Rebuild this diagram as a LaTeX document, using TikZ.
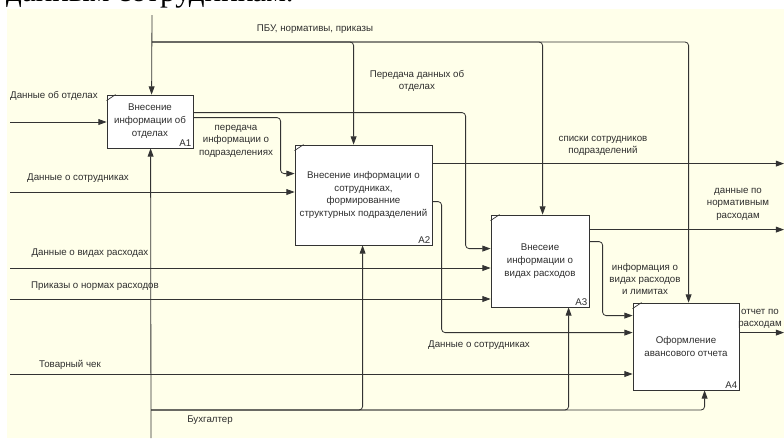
\documentclass[tikz,border=0pt]{standalone}
\usepackage{fontspec}
\setmainfont{Liberation Sans}
\newfontfamily\docfont{Liberation Serif}
\usetikzlibrary{arrows.meta,positioning,calc}
\definecolor{IdefBg}{HTML}{FFFFEA}
\definecolor{LineGray}{HTML}{333333}
\definecolor{TextGray}{HTML}{2E2E2E}
\tikzset{
  FB/.style={rectangle,draw=LineGray,fill=white,line width=0.7pt,
             inner sep=0pt,align=center,text=TextGray,
             font=\fontsize{8.3}{11}\selectfont},
  arr/.style={-{Triangle[length=7pt,width=5pt]},draw=LineGray,
              line width=0.7pt,rounded corners=3pt},
  lbl/.style={align=center,text=TextGray,inner sep=0pt,
              font=\fontsize{8.3}{10.6}\selectfont}
}

\begin{document}
\begin{tikzpicture}[x=0.03cm,y=-0.03cm]
  \useasboundingbox (0,0) rectangle (784,438);
  \begin{scope}
    \clip (0,0) rectangle (784,438);
    \node[anchor=base west,inner sep=0pt,
          font=\docfont\fontsize{26.5}{30}\selectfont] (doctail) at (6,1.5) {данным сотрудникам.};
  \end{scope}
  \fill[IdefBg] (7,9) rectangle (784,438);
  % function boxes
  \node[FB,minimum width=2.58cm,minimum height=1.59cm] (A1) at (150,121.5)
    {Внесение\\информации об\\отделах};
  \node[FB,minimum width=4.11cm,minimum height=3.0cm] (A2) at (363.5,195)
    {Внесение информации о\\сотрудниках,\\формированние\\структурных подразделений};
  \node[FB,minimum width=2.94cm,minimum height=2.76cm] (A3) at (540,261)
    {Внесеие\\информации о\\видах расходов};
  \node[FB,minimum width=3.18cm,minimum height=2.61cm] (A4) at (686,346.5)
    {Оформление\\авансового отчета};
  \foreach \n in {A1,A2,A3,A4}{
    \draw[LineGray,line width=0.6pt] ($(\n.north west)+(0,6)$) -- ($(\n.north west)+(9,0)$);
    \node[lbl,anchor=south east] at ($(\n.south east)+(-2,-2)$) {\n};
  }

  % free ends and ports
  \coordinate (ctrlTop) at (152,15);
  \coordinate (ctrlJ) at (152,42);
  \coordinate (mechBot) at (151,438);
  \coordinate (mechJ) at (151,410);
  \coordinate (rEdge) at (784,0);
  \coordinate (inDep) at (10,122);
  \coordinate (inEmp) at (10,192);
  \coordinate (inKind) at (10,268);
  \coordinate (inNorm) at (10,299);
  \coordinate (inCheck) at (10,374);
  \coordinate (A1c) at ($(A1.north west)+(45,0)$);
  \coordinate (A1m) at ($(A1.south west)+(44,0)$);
  \coordinate (A1o1) at ($(A1.north east)+(0,18)$);
  \coordinate (A1o2) at ($(A1.north east)+(0,23)$);
  \coordinate (A2c) at ($(A2.north west)+(59,0)$);
  \coordinate (A2m) at ($(A2.south west)+(68,0)$);
  \coordinate (A2i1) at ($(A2.north west)+(0,29)$);
  \coordinate (A2o1) at ($(A2.north east)+(0,19)$);
  \coordinate (A2o2) at ($(A2.north east)+(0,57)$);
  \coordinate (A3c) at ($(A3.north west)+(52,0)$);
  \coordinate (A3m) at ($(A3.south west)+(78,0)$);
  \coordinate (A3i1) at ($(A3.north west)+(0,34)$);
  \coordinate (A3o1) at ($(A3.north east)+(0,15)$);
  \coordinate (A3o2) at ($(A3.north east)+(0,27)$);
  \coordinate (A4c) at ($(A4.north west)+(56,0)$);
  \coordinate (A4m) at ($(A4.south west)+(72,0)$);
  \coordinate (A4i1) at ($(A4.north west)+(0,13)$);
  \coordinate (A4i2) at ($(A4.north west)+(0,30)$);
  \coordinate (A4o1) at ($(A4.north east)+(0,30)$);

  % controls
  \draw[arr] (ctrlTop) -- (A1c);
  \draw[arr] (ctrlJ) -| (A2c);
  \draw[arr] (ctrlJ) -| (A3c);
  \draw[arr] (ctrlJ) -| (A4c);
  % mechanisms
  \draw[arr] (mechBot) -- (A1m);
  \draw[arr] (mechJ) -| (A2m);
  \draw[arr] (mechJ) -| (A3m);
  \draw[arr] (mechJ) -| (A4m);
  % inputs
  \draw[arr] (inDep) -- (inDep -| A1.west);
  \draw[arr] (inEmp) -- (inEmp -| A2.west);
  \draw[arr] (inKind) -- (inKind -| A3.west);
  \draw[arr] (inNorm) -- (inNorm -| A3.west);
  \draw[arr] (inCheck) -- (inCheck -| A4.west);
  % links between boxes
  \draw[arr] (A1o1) -| ($(A3i1)+(-25,0)$) -- (A3i1);
  \draw[arr] (A1o2) -| ($(A2i1)+(-14,0)$) -- (A2i1);
  \draw[arr] (A2o2) -| ($(A4i2)+(-191,0)$) -- (A4i2);
  \draw[arr] (A3o2) -| ($(A4i1)+(-30,0)$) -- (A4i1);
  % outputs
  \draw[arr] (A2o1) -- (A2o1 -| rEdge);
  \draw[arr] (A3o1) -- (A3o1 -| rEdge);
  \draw[arr] (A4o1) -- (A4o1 -| rEdge);

  % labels
  \node[lbl] (lPbu) at (315,29) {ПБУ, нормативы, приказы};
  \node[lbl] (lDepT) at (417,81) {Передача данных об\\отделах};
  \node[lbl] (lDep) at (54,96) {Данные об отделах};
  \node[lbl] (lSub) at (236,141) {передача\\информации о\\подразделениях};
  \node[lbl] (lEmp) at (78,178) {Данные о сотрудниках};
  \node[lbl] (lKind) at (90,253) {Данные о видах расходах};
  \node[lbl] (lNorm) at (95,286) {Приказы о нормах расходов};
  \node[lbl] (lCheck) at (70,365) {Товарный чек};
  \node[lbl] (lAcc) at (210,420) {Бухгалтер};
  \node[lbl] (lList) at (603,146) {списки сотрудников\\подразделений};
  \node[lbl] (lNormOut) at (738,204) {данные по\\нормативным\\расходам};
  \node[lbl] (lLim) at (645,279) {информация о\\видах расходов\\и лимитах};
  \node[lbl] (lRep) at (760,319) {отчет по\\расходам};
  \node[lbl] (lEmpT) at (479,345) {Данные о сотрудниках};
\end{tikzpicture}
\end{document}
